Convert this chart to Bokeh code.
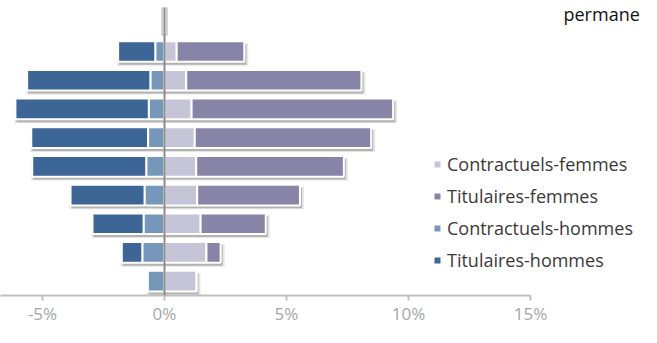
from bokeh.plotting import figure
from bokeh.models import (Range1d, FixedTicker, PrintfTickFormatter, Span, Legend,
                          LegendItem, Label, ColumnDataSource)
from bokeh.embed import file_html
from bokeh.resources import INLINE

# ---- data (% of staff), rows from top (oldest) to bottom (youngest)
age_groups = ["60 ans et +", "55-59 ans", "50-54 ans", "45-49 ans", "40-44 ans",
              "35-39 ans", "30-34 ans", "25-29 ans", "moins de 25 ans"]
titulaires_hommes = [1.53, 5.06, 5.47, 4.79, 4.68, 3.04, 2.10, 0.85, 0.0]
contractuels_hommes = [0.37, 0.57, 0.64, 0.67, 0.74, 0.81, 0.85, 0.90, 0.68]
contractuels_femmes = [0.50, 0.89, 1.11, 1.24, 1.30, 1.34, 1.48, 1.72, 1.31]
titulaires_femmes = [2.77, 7.18, 8.26, 7.23, 6.05, 4.21, 2.67, 0.58, 0.0]
x_ticks = [-10, -5, 0, 5, 10, 15]
title_text = "permane"

# ---- geometry
W, H = 641, 327
PX_PER_PCT = 24.4
ZERO_PX = 164
TOP_PX = 7
FRAME_H = 293
ROW_PX = 29.2
BAR_H = 0.72

x0 = -ZERO_PX / PX_PER_PCT
x1 = x0 + W / PX_PER_PCT
y0 = 0.5
y1 = y0 + FRAME_H / ROW_PX
dx = 1.0 / PX_PER_PCT   # one pixel in x data units
dy = 1.0 / ROW_PX       # one pixel in y data units

n = len(age_groups)
ys = list(range(n, 0, -1))

src = ColumnDataSource(dict(
    y=ys,
    ch_left=[-c for c in contractuels_hommes],
    ch_right=[0.0] * n,
    th_left=[-(c + t) for c, t in zip(contractuels_hommes, titulaires_hommes)],
    th_right=[-c for c in contractuels_hommes],
    cf_left=[0.0] * n,
    cf_right=list(contractuels_femmes),
    tf_left=list(contractuels_femmes),
    tf_right=[c + t for c, t in zip(contractuels_femmes, titulaires_femmes)],
))
shadow = ColumnDataSource(dict(
    y=[v - 3 * dy for v in ys],
    left=[-(c + t) + dx for c, t in zip(contractuels_hommes, titulaires_hommes)],
    right=[c + t + 2 * dx for c, t in zip(contractuels_femmes, titulaires_femmes)],
))
shadow2 = ColumnDataSource(dict(
    y=[v - 3 * dy for v in ys],
    left=[-(c + t) - dx for c, t in zip(contractuels_hommes, titulaires_hommes)],
    right=[c + t + 4 * dx for c, t in zip(contractuels_femmes, titulaires_femmes)],
))

p = figure(width=W, height=H, output_backend="svg", toolbar_location=None,
           x_range=Range1d(x0, x1), y_range=Range1d(y0, y1),
           min_border_left=0, min_border_right=0, min_border_top=TOP_PX,
           min_border_bottom=H - FRAME_H - TOP_PX)
p.outline_line_color = None
p.grid.visible = False
p.yaxis.visible = False
p.background_fill_color = "white"
p.border_fill_color = "white"

# shadows
p.hbar(y="y", left="left", right="right", height=BAR_H + 2 * dy, source=shadow2,
       fill_color="black", fill_alpha=0.10, line_color=None)
p.hbar(y="y", left="left", right="right", height=BAR_H, source=shadow,
       fill_color="black", fill_alpha=0.22, line_color=None)

C_TH, C_CH, C_CF, C_TF = "#3d6596", "#7797ba", "#c5c5d7", "#8784a8"
r_th = p.hbar(y="y", left="th_left", right="th_right", height=BAR_H, source=src,
              fill_color=C_TH, line_color="white", line_width=2)
r_ch = p.hbar(y="y", left="ch_left", right="ch_right", height=BAR_H, source=src,
              fill_color=C_CH, line_color="white", line_width=2)
r_cf = p.hbar(y="y", left="cf_left", right="cf_right", height=BAR_H, source=src,
              fill_color=C_CF, line_color="white", line_width=2)
r_tf = p.hbar(y="y", left="tf_left", right="tf_right", height=BAR_H, source=src,
              fill_color=C_TF, line_color="white", line_width=2)

# vertical zero line with its small "pin" at the top
p.quad(left=[-2.5 * dx], right=[2.5 * dx], top=[y1], bottom=[y1 - 28 * dy],
       fill_color="#f4f4f4", line_color="#b0b0b0", line_width=1)
p.add_layout(Span(location=0, dimension="height", line_color="#8c8c8c", line_width=2))

# x axis
ax = p.xaxis[0]
ax.bounds = (-10, 15)
ax.ticker = FixedTicker(ticks=x_ticks)
ax.formatter = PrintfTickFormatter(format="%d%%")
ax.axis_line_color = "#c0c0c0"
ax.axis_line_width = 2
ax.major_tick_line_color = "#c0c0c0"
ax.major_tick_line_width = 2
ax.major_tick_in = 0
ax.major_tick_out = 5
ax.minor_tick_line_color = None
ax.major_label_text_font = "Open Sans"
ax.major_label_text_font_size = "17px"
ax.major_label_text_color = "#a6a6a6"
ax.major_label_standoff = 1

# legend
legend = Legend(items=[
    LegendItem(label="Contractuels-femmes", renderers=[r_cf]),
    LegendItem(label="Titulaires-femmes", renderers=[r_tf]),
    LegendItem(label="Contractuels-hommes", renderers=[r_ch]),
    LegendItem(label="Titulaires-hommes", renderers=[r_th]),
], location=(432, 23), orientation="vertical")
legend.background_fill_alpha = 0
legend.border_line_color = None
legend.padding = 0
legend.margin = 0
legend.spacing = 8
legend.glyph_width = 10
legend.glyph_height = 10
legend.label_height = 20
legend.label_standoff = 5
legend.label_text_font = "Open Sans"
legend.label_text_font_size = "18px"
legend.label_text_color = "#3a3a3a"
p.add_layout(legend)

# cropped title fragment at the top right
p.add_layout(Label(x=x0 + 563 * dx, y=y1 - 7 * dy, text=title_text,
                   text_font="Open Sans", text_font_size="18px",
                   text_color="#111111", text_baseline="alphabetic"))

open("out.html", "w").write(file_html(p, INLINE))
